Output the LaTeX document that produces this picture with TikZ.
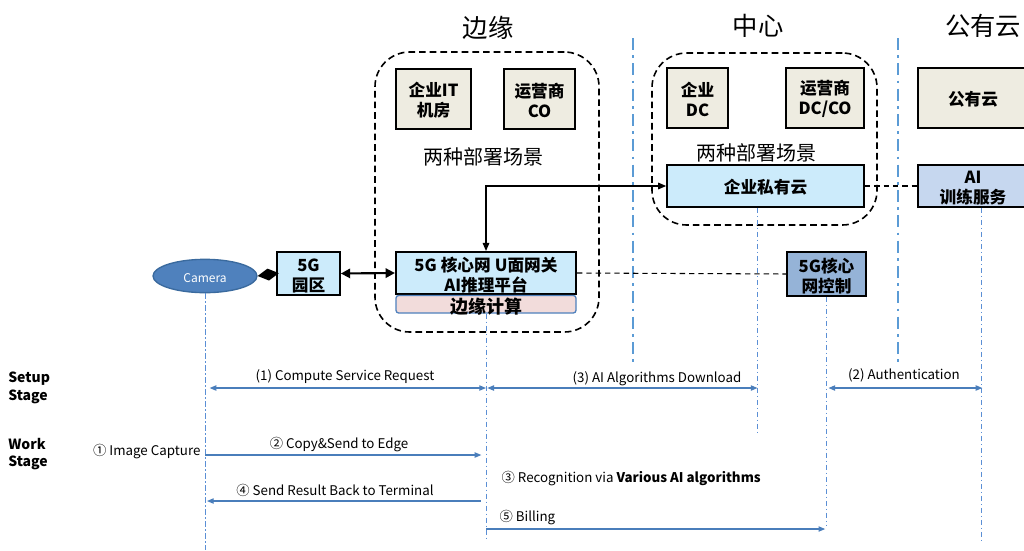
\documentclass[tikz,border=0pt]{standalone}
\usepackage{fontspec}
\setmainfont{Noto Sans CJK SC}
\usetikzlibrary{fit,arrows.meta,shapes.geometric}
\definecolor{cbeige}{HTML}{EEECE1}
\definecolor{clight}{HTML}{CCEBFB}
\definecolor{cpink}{HTML}{F2DCDB}
\definecolor{cmid}{HTML}{95B3D7}
\definecolor{cai}{HTML}{C6D7EF}
\definecolor{ccam}{HTML}{4F81BD}
\definecolor{ccamedge}{HTML}{3A6A9E}
\definecolor{carrow}{HTML}{4A7EBB}
\definecolor{clife}{HTML}{5B8FD5}
\definecolor{csep}{HTML}{5B9BD5}
\begin{document}
\begin{tikzpicture}[x=0.75pt,y=-0.75pt,
  box/.style={draw=black,line width=1.3pt,inner sep=0pt},
  beigebox/.style={box,fill=cbeige},
  lightbox/.style={box,fill=clight},
  btxt/.style={inner sep=0pt,align=center,font=\bfseries\fontsize{12.5}{15}\selectfont},
  group/.style={draw=black,line width=1.2pt,rounded corners=26pt,inner sep=0pt,dash pattern=on 5pt off 3pt},
  title/.style={font=\fontsize{19}{20}\selectfont},
  note/.style={font=\fontsize{15}{16}\selectfont},
  sep/.style={csep,line width=2pt,dash pattern=on 9pt off 4pt on 2pt off 4pt},
  life/.style={clife,line width=0.6pt,dash pattern=on 4pt off 2pt on 1pt off 2pt},
  msg/.style={carrow,line width=0.8pt},
  mt/.tip={Triangle[length=5pt,width=4pt]},
  link/.style={black,line width=0.8pt,dash pattern=on 4pt off 3pt},
  lbl/.style={font=\fontsize{10}{12}\selectfont,inner sep=1pt},
  stage/.style={font=\bfseries\fontsize{10.5}{13}\selectfont,align=left,anchor=west,inner sep=0pt}
]
\useasboundingbox (0,0) rectangle (1024,550);
\fill[white] (0,0) rectangle (1024,550);

% titles
\node[title] (tedge) at (488,28) {边缘};
\node[title] (tcenter) at (758,26) {中心};
\node[title] (tpublic) at (983,26) {公有云};

% groups and separators
\node[group, fit={(375,52)(599,332)}] (gedge) {};
\node[group, fit={(652,53)(877,225)}] (gcenter) {};
\draw[sep] (633,38) -- (633,365);
\draw[sep] (898,38) -- (898,365);

% boxes
\node[beigebox, fit={(396,69)(471,129)}] (itroom) {};
\node[btxt] (itroomT) at ([yshift=-1pt]itroom.center) {企业IT\\机房};
\node[beigebox, fit={(504,69)(575,129)}] (co) {};
\node[btxt] (coT) at ([yshift=-1pt]co.center) {运营商\\CO};
\node[note] (n1) at (483,157) {两种部署场景};
\node[beigebox, fit={(667,68)(728,128)}] (dc) {};
\node[btxt] (dcT) at ([yshift=-1pt]dc.center) {企业\\DC};
\node[beigebox, fit={(786,68)(864,128)}] (dcco) {};
\node[btxt] (dccoT) at ([yshift=-1pt]dcco.center) {运营商\\DC/CO};
\node[note] (n2) at (756,153) {两种部署场景};
\node[lightbox, fit={(667,165)(864,207)}] (pcloud) {};
\node[btxt] (pcloudT) at ([yshift=-1pt]pcloud.center) {企业私有云};
\node[beigebox, fit={(918,68)(1028,128)}] (pub) {};
\node[btxt] (pubT) at ([yshift=-1pt]pub.center) {公有云};
\node[box, fill=cai, fit={(918,165)(1028,207)}] (aitrain) {};
\node[btxt] (aitrainT) at ([yshift=-1.5pt]aitrain.center) {AI\\训练服务};

\node[ellipse, fill=ccam, draw=ccamedge, line width=1pt, minimum width=78pt, minimum height=25pt, inner sep=0pt] (camera) at (205,276) {};
\node[text=white, font=\fontsize{9}{10}\selectfont, inner sep=0pt] (cameraT) at ([yshift=-1.5pt]camera.center) {Camera};
\node[lightbox, fit={(277,252)(340,295)}] (park) {};
\node[btxt] (parkT) at ([yshift=-1.5pt]park.center) {5G\\园区};
\node[lightbox, line width=1.6pt, fit={(396,252)(576,294)}] (core) {};
\node[btxt] (coreT) at ([yshift=-1.5pt]core.center) {5G\hspace{3pt}核心网\hspace{3pt}U面网关\\AI推理平台};
\node[fit={(396,295.5)(576,313)}, draw=ccam, fill=cpink, rounded corners=2pt, line width=1pt, inner sep=0pt] (ec) {};
\node[btxt, font=\bfseries\fontsize{13.5}{14}\selectfont] (ecT) at ([yshift=-1.5pt]ec.center) {边缘计算};
\node[box, fill=cmid, fit={(787,252)(866,296)}] (ctrl) {};
\node[btxt] (ctrlT) at ([yshift=-1.5pt]ctrl.center) {5G核心\\网控制};

% connectors
\draw[line width=1pt, {Diamond[length=16pt,width=9pt]}-] (camera.east) -- (park.west);
\draw[line width=1.6pt, {Triangle[length=7pt,width=7pt]}-{Triangle[length=7pt,width=7pt]}] (park.east) -- (core.west);
\draw[line width=0.8pt, {Triangle[length=6pt,width=5pt]}-{Triangle[length=6pt,width=5pt]}] (core.north) |- (pcloud.west);
\draw[link] (core.east) -- (ctrl.west);
\draw[link] (pcloud.east) -- (aitrain.west);

% lifelines
\coordinate (l1) at (camera.south);
\coordinate (l2) at (ec.south);
\coordinate (l3) at ([xshift=-6pt]pcloud.south);
\coordinate (l4) at (ctrl.south);
\coordinate (l5) at ([xshift=6pt]aitrain.south);
\coordinate (yEnd) at (0,550);
\coordinate (ySet) at (0,388);
\coordinate (yCopy) at (0,455);
\coordinate (yRes) at (0,501);
\coordinate (yBill) at (0,529);
\draw[life] (l1) -- (l1 |- yEnd);
\draw[life] (l2) -- ++(0,225);
\draw[life] (l3) -- ++(0,225);
\draw[life] (l4) -- ++(0,229);
\draw[life] (l5) -- ++(0,333);

% messages
\draw[msg, mt-mt, shorten <=3.5pt] (l1 |- ySet) -- (l2 |- ySet);
\draw[msg, mt-mt, shorten <=1pt] (l2 |- ySet) -- (l3 |- ySet);
\draw[msg, mt-mt, shorten <=1.5pt, shorten >=-1pt] (l4 |- ySet) -- (l5 |- ySet);
\draw[msg, -mt, shorten >=3.5pt] (l1 |- yCopy) -- (l2 |- yCopy);
\draw[msg, -mt, shorten <=4pt, shorten >=1.5pt] (l2 |- yRes) -- (l1 |- yRes);
\draw[msg, -mt, shorten >=1pt] (l2 |- yBill) -- (l4 |- yBill);

% labels
\node[lbl] (m1) at (345,377) {(1) Compute Service Request};
\node[lbl] (m3) at (657,379) {(3) AI Algorithms Download};
\node[lbl] (m2) at (904,375) {(2) Authentication};
\node[lbl] (c2) at (339,445) {② Copy\&Send to Edge};
\node[lbl, anchor=east] (c1) at (202,452) {① Image Capture};
\node[lbl] (c4) at (335,490) {④ Send Result Back to Terminal};
\node[lbl, anchor=west] (c3) at (500,479) {③ Recognition via \textbf{Various AI algorithms}};
\node[lbl, anchor=west] (c5) at (498,518) {⑤ Billing};
\node[stage] (s1) at (8,388) {Setup\\Stage};
\node[stage] (s2) at (8,454) {Work\\Stage};
\end{tikzpicture}
\end{document}
